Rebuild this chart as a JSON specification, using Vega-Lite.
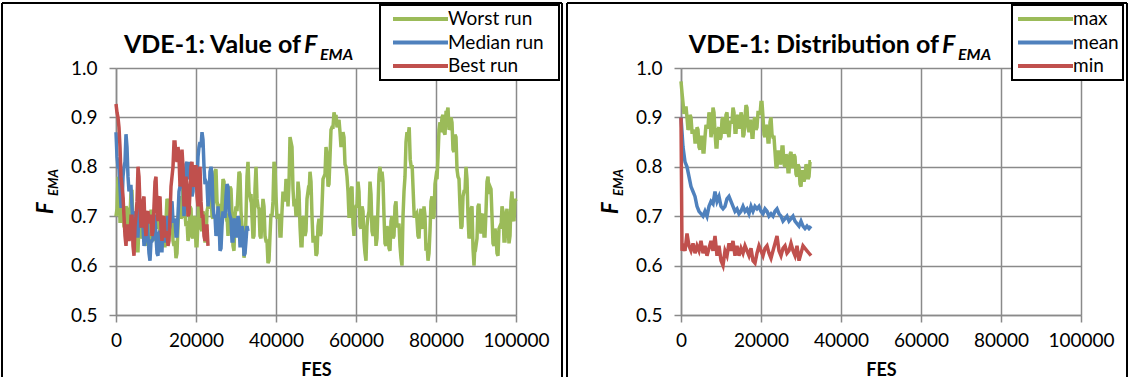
{
  "$schema": "https://vega.github.io/schema/vega-lite/v6.json",
  "padding": {"left": 1, "top": 1, "right": 0, "bottom": 0},
  "autosize": {"type": "pad"},
  "background": "white",
  "spacing": 3,
  "config": {
    "font": "Lato",
    "view": {"stroke": null},
    "axis": {
      "grid": true, "gridColor": "#8a8a8a", "gridWidth": 1.5,
      "domainColor": "#8a8a8a", "domainWidth": 1.5,
      "tickColor": "#8a8a8a", "tickWidth": 1.5, "tickSize": 7,
      "labelFont": "Lato", "labelFontSize": 19, "labelColor": "black",
      "titleFont": "Lato", "titleFontSize": 18, "titleFontWeight": "bold", "titleColor": "black"
    },
    "legend": {
      "strokeColor": "black", "strokeWidth": 2, "fillColor": "white",
      "padding": 4, "symbolType": "stroke", "symbolSize": 3025, "symbolStrokeWidth": 4,
      "labelFont": "Lato", "labelFontSize": 19, "labelColor": "black", "labelOffset": -2,
      "clipHeight": 20, "rowPadding": 3.5
    },
    "text": {"font": "Lato", "color": "black"}
  },
  "resolve": {"scale": {"color": "independent"}, "legend": {"color": "independent"}},
  "hconcat": [
    {
      "width": 400, "height": 247,
      "layer": [
        {
          "data": {"values": [
            {"fes":0,"Worst run":0.70,"Median run":0.87,"Best run":0.927},
            {"fes":250,"Worst run":0.715,"Median run":0.82,"Best run":0.91},
            {"fes":500,"Worst run":0.78,"Median run":0.80,"Best run":0.90},
            {"fes":1000,"Worst run":0.69,"Median run":0.76,"Best run":0.84},
            {"fes":1500,"Worst run":0.74,"Median run":0.72,"Best run":0.76},
            {"fes":2000,"Worst run":0.68,"Median run":0.80,"Best run":0.70},
            {"fes":2500,"Worst run":0.72,"Median run":0.866,"Best run":0.64},
            {"fes":3000,"Worst run":0.66,"Median run":0.78,"Best run":0.68},
            {"fes":3500,"Worst run":0.70,"Median run":0.76,"Best run":0.66},
            {"fes":4000,"Worst run":0.75,"Median run":0.72,"Best run":0.70},
            {"fes":4500,"Worst run":0.65,"Median run":0.68,"Best run":0.62},
            {"fes":5000,"Worst run":0.68,"Median run":0.70,"Best run":0.70},
            {"fes":5500,"Worst run":0.63,"Median run":0.66,"Best run":0.80},
            {"fes":6000,"Worst run":0.70,"Median run":0.72,"Best run":0.72},
            {"fes":6500,"Worst run":0.66,"Median run":0.68,"Best run":0.68},
            {"fes":7000,"Worst run":0.72,"Median run":0.64,"Best run":0.74},
            {"fes":7500,"Worst run":0.64,"Median run":0.70,"Best run":0.66},
            {"fes":8000,"Worst run":0.69,"Median run":0.66,"Best run":0.71},
            {"fes":8500,"Worst run":0.66,"Median run":0.61,"Best run":0.70},
            {"fes":9000,"Worst run":0.71,"Median run":0.65,"Best run":0.66},
            {"fes":9500,"Worst run":0.65,"Median run":0.70,"Best run":0.72},
            {"fes":10000,"Worst run":0.68,"Median run":0.66,"Best run":0.78},
            {"fes":10500,"Worst run":0.72,"Median run":0.62,"Best run":0.69},
            {"fes":11000,"Worst run":0.66,"Median run":0.67,"Best run":0.74},
            {"fes":11500,"Worst run":0.70,"Median run":0.63,"Best run":0.65},
            {"fes":12000,"Worst run":0.64,"Median run":0.69,"Best run":0.70},
            {"fes":12500,"Worst run":0.69,"Median run":0.65,"Best run":0.66},
            {"fes":13000,"Worst run":0.73,"Median run":0.70,"Best run":0.64},
            {"fes":13500,"Worst run":0.67,"Median run":0.68,"Best run":0.70},
            {"fes":14000,"Worst run":0.71,"Median run":0.73,"Best run":0.78},
            {"fes":14500,"Worst run":0.64,"Median run":0.69,"Best run":0.85},
            {"fes":15000,"Worst run":0.615,"Median run":0.66,"Best run":0.82},
            {"fes":15500,"Worst run":0.68,"Median run":0.70,"Best run":0.84},
            {"fes":16000,"Worst run":0.74,"Median run":0.76,"Best run":0.76},
            {"fes":16500,"Worst run":0.70,"Median run":0.81,"Best run":0.835},
            {"fes":17000,"Worst run":0.78,"Median run":0.70,"Best run":0.72},
            {"fes":17500,"Worst run":0.68,"Median run":0.805,"Best run":0.78},
            {"fes":18000,"Worst run":0.65,"Median run":0.78,"Best run":0.70},
            {"fes":18500,"Worst run":0.72,"Median run":0.81,"Best run":0.75},
            {"fes":19000,"Worst run":0.66,"Median run":0.74,"Best run":0.81},
            {"fes":19500,"Worst run":0.70,"Median run":0.80,"Best run":0.76},
            {"fes":20000,"Worst run":0.64,"Median run":0.76,"Best run":0.80},
            {"fes":20500,"Worst run":0.69,"Median run":0.82,"Best run":0.72},
            {"fes":21000,"Worst run":0.73,"Median run":0.85,"Best run":0.80},
            {"fes":21500,"Worst run":0.67,"Median run":0.87,"Best run":0.70},
            {"fes":22000,"Worst run":0.70,"Median run":0.80,"Best run":0.66},
            {"fes":22500,"Worst run":0.65,"Median run":0.77,"Best run":0.68},
            {"fes":23000,"Worst run":0.72,"Median run":0.72,"Best run":0.64},
            {"fes":23500,"Worst run":0.76,"Median run":0.79},
            {"fes":24000,"Worst run":0.70,"Median run":0.785},
            {"fes":24500,"Worst run":0.74,"Median run":0.70},
            {"fes":25000,"Worst run":0.795,"Median run":0.66},
            {"fes":25500,"Worst run":0.72,"Median run":0.72},
            {"fes":26000,"Worst run":0.68,"Median run":0.63},
            {"fes":26500,"Worst run":0.73,"Median run":0.68},
            {"fes":27000,"Worst run":0.77,"Median run":0.70},
            {"fes":27500,"Worst run":0.70,"Median run":0.74},
            {"fes":28000,"Worst run":0.66,"Median run":0.76},
            {"fes":28500,"Worst run":0.76,"Median run":0.70},
            {"fes":29000,"Worst run":0.70,"Median run":0.65},
            {"fes":29500,"Worst run":0.63,"Median run":0.69},
            {"fes":30000,"Worst run":0.72,"Median run":0.66},
            {"fes":30500,"Worst run":0.75,"Median run":0.70},
            {"fes":31000,"Worst run":0.785,"Median run":0.64},
            {"fes":31500,"Worst run":0.68,"Median run":0.68},
            {"fes":32000,"Worst run":0.616,"Median run":0.62},
            {"fes":32500,"Worst run":0.70,"Median run":0.65},
            {"fes":33000,"Worst run":0.81,"Median run":0.67},
            {"fes":33500,"Worst run":0.74},
            {"fes":34000,"Worst run":0.70},
            {"fes":34500,"Worst run":0.66},
            {"fes":35000,"Worst run":0.80},
            {"fes":35500,"Worst run":0.72},
            {"fes":36000,"Worst run":0.66},
            {"fes":36500,"Worst run":0.70},
            {"fes":37000,"Worst run":0.72},
            {"fes":37500,"Worst run":0.65},
            {"fes":38000,"Worst run":0.605},
            {"fes":38500,"Worst run":0.66},
            {"fes":39000,"Worst run":0.70},
            {"fes":39500,"Worst run":0.81},
            {"fes":40000,"Worst run":0.74},
            {"fes":40500,"Worst run":0.70},
            {"fes":41000,"Worst run":0.66},
            {"fes":41500,"Worst run":0.71},
            {"fes":42000,"Worst run":0.74},
            {"fes":42500,"Worst run":0.775},
            {"fes":43000,"Worst run":0.72},
            {"fes":43500,"Worst run":0.86},
            {"fes":44000,"Worst run":0.84},
            {"fes":44500,"Worst run":0.72},
            {"fes":45000,"Worst run":0.70},
            {"fes":45500,"Worst run":0.77},
            {"fes":46000,"Worst run":0.68},
            {"fes":46500,"Worst run":0.64},
            {"fes":47000,"Worst run":0.70},
            {"fes":47500,"Worst run":0.67},
            {"fes":48000,"Worst run":0.75},
            {"fes":48500,"Worst run":0.79},
            {"fes":49000,"Worst run":0.70},
            {"fes":49500,"Worst run":0.65},
            {"fes":50000,"Worst run":0.62},
            {"fes":50500,"Worst run":0.68},
            {"fes":51000,"Worst run":0.66},
            {"fes":51500,"Worst run":0.72},
            {"fes":52000,"Worst run":0.78},
            {"fes":52500,"Worst run":0.84},
            {"fes":53000,"Worst run":0.76},
            {"fes":53500,"Worst run":0.82},
            {"fes":54000,"Worst run":0.88},
            {"fes":54500,"Worst run":0.91},
            {"fes":55000,"Worst run":0.905},
            {"fes":55500,"Worst run":0.89},
            {"fes":56000,"Worst run":0.87},
            {"fes":56500,"Worst run":0.855},
            {"fes":57000,"Worst run":0.86},
            {"fes":57500,"Worst run":0.80},
            {"fes":58000,"Worst run":0.75},
            {"fes":58500,"Worst run":0.70},
            {"fes":59000,"Worst run":0.76},
            {"fes":59500,"Worst run":0.66},
            {"fes":60000,"Worst run":0.72},
            {"fes":60500,"Worst run":0.77},
            {"fes":61000,"Worst run":0.68},
            {"fes":61500,"Worst run":0.72},
            {"fes":62000,"Worst run":0.65},
            {"fes":62500,"Worst run":0.61},
            {"fes":63000,"Worst run":0.70},
            {"fes":63500,"Worst run":0.77},
            {"fes":64000,"Worst run":0.67},
            {"fes":64500,"Worst run":0.70},
            {"fes":65000,"Worst run":0.64},
            {"fes":65500,"Worst run":0.72},
            {"fes":66000,"Worst run":0.80},
            {"fes":66500,"Worst run":0.79},
            {"fes":67000,"Worst run":0.70},
            {"fes":67500,"Worst run":0.64},
            {"fes":68000,"Worst run":0.67},
            {"fes":68500,"Worst run":0.63},
            {"fes":69000,"Worst run":0.70},
            {"fes":69500,"Worst run":0.66},
            {"fes":70000,"Worst run":0.73},
            {"fes":70500,"Worst run":0.68},
            {"fes":71000,"Worst run":0.64},
            {"fes":71500,"Worst run":0.60},
            {"fes":72000,"Worst run":0.75},
            {"fes":72500,"Worst run":0.85},
            {"fes":73000,"Worst run":0.86},
            {"fes":73300,"Worst run":0.88},
            {"fes":73800,"Worst run":0.80},
            {"fes":74300,"Worst run":0.75},
            {"fes":74800,"Worst run":0.70},
            {"fes":75500,"Worst run":0.66},
            {"fes":76000,"Worst run":0.70},
            {"fes":76500,"Worst run":0.68},
            {"fes":77000,"Worst run":0.72},
            {"fes":77500,"Worst run":0.63},
            {"fes":78000,"Worst run":0.61},
            {"fes":78500,"Worst run":0.67},
            {"fes":79000,"Worst run":0.74},
            {"fes":79500,"Worst run":0.70},
            {"fes":80000,"Worst run":0.78},
            {"fes":80500,"Worst run":0.82},
            {"fes":81000,"Worst run":0.89},
            {"fes":81500,"Worst run":0.90},
            {"fes":82000,"Worst run":0.87},
            {"fes":82500,"Worst run":0.91},
            {"fes":83000,"Worst run":0.92},
            {"fes":83500,"Worst run":0.88},
            {"fes":84000,"Worst run":0.89},
            {"fes":84500,"Worst run":0.83},
            {"fes":85000,"Worst run":0.86},
            {"fes":85500,"Worst run":0.78},
            {"fes":86000,"Worst run":0.72},
            {"fes":86500,"Worst run":0.68},
            {"fes":87000,"Worst run":0.75},
            {"fes":87500,"Worst run":0.80},
            {"fes":88000,"Worst run":0.70},
            {"fes":88500,"Worst run":0.66},
            {"fes":89000,"Worst run":0.72},
            {"fes":89500,"Worst run":0.60},
            {"fes":90000,"Worst run":0.64},
            {"fes":90500,"Worst run":0.72},
            {"fes":91000,"Worst run":0.68},
            {"fes":91500,"Worst run":0.70},
            {"fes":92000,"Worst run":0.66},
            {"fes":92500,"Worst run":0.71},
            {"fes":93000,"Worst run":0.78},
            {"fes":93500,"Worst run":0.76},
            {"fes":94000,"Worst run":0.70},
            {"fes":94500,"Worst run":0.64},
            {"fes":95000,"Worst run":0.66},
            {"fes":95500,"Worst run":0.62},
            {"fes":96000,"Worst run":0.68},
            {"fes":96500,"Worst run":0.72},
            {"fes":97000,"Worst run":0.65},
            {"fes":97500,"Worst run":0.70},
            {"fes":98000,"Worst run":0.68},
            {"fes":98500,"Worst run":0.66},
            {"fes":99000,"Worst run":0.75},
            {"fes":99500,"Worst run":0.69},
            {"fes":100000,"Worst run":0.73},
            {"fes":750,"Worst run":0.76,"Median run":0.80,"Best run":0.88},
            {"fes":1250,"Worst run":0.69,"Median run":0.72,"Best run":0.78},
            {"fes":1750,"Worst run":0.735,"Median run":0.78,"Best run":0.74},
            {"fes":2250,"Worst run":0.675,"Median run":0.81,"Best run":0.66},
            {"fes":2750,"Worst run":0.715,"Median run":0.84,"Best run":0.68},
            {"fes":3250,"Worst run":0.655,"Median run":0.75,"Best run":0.65},
            {"fes":3750,"Worst run":0.75,"Median run":0.76,"Best run":0.70},
            {"fes":4250,"Worst run":0.675,"Median run":0.68,"Best run":0.64},
            {"fes":4750,"Worst run":0.69,"Median run":0.71,"Best run":0.68},
            {"fes":5250,"Worst run":0.63,"Median run":0.66,"Best run":0.73},
            {"fes":5750,"Worst run":0.69,"Median run":0.71,"Best run":0.78},
            {"fes":6250,"Worst run":0.655,"Median run":0.68,"Best run":0.68},
            {"fes":6750,"Worst run":0.715,"Median run":0.68,"Best run":0.73},
            {"fes":7250,"Worst run":0.655,"Median run":0.65,"Best run":0.68},
            {"fes":7750,"Worst run":0.69,"Median run":0.70,"Best run":0.705},
            {"fes":8250,"Worst run":0.65,"Median run":0.625,"Best run":0.685},
            {"fes":8750,"Worst run":0.71,"Median run":0.65,"Best run":0.70},
            {"fes":9250,"Worst run":0.655,"Median run":0.655,"Best run":0.67},
            {"fes":9750,"Worst run":0.69,"Median run":0.70,"Best run":0.77},
            {"fes":10250,"Worst run":0.675,"Median run":0.625,"Best run":0.715},
            {"fes":10750,"Worst run":0.715,"Median run":0.665,"Best run":0.735},
            {"fes":11250,"Worst run":0.655,"Median run":0.63,"Best run":0.675},
            {"fes":11750,"Worst run":0.695,"Median run":0.68,"Best run":0.695},
            {"fes":12250,"Worst run":0.64,"Median run":0.65,"Best run":0.66},
            {"fes":12750,"Worst run":0.735,"Median run":0.695,"Best run":0.67},
            {"fes":13250,"Worst run":0.675,"Median run":0.67,"Best run":0.65},
            {"fes":13750,"Worst run":0.715,"Median run":0.725,"Best run":0.76},
            {"fes":14250,"Worst run":0.65,"Median run":0.69,"Best run":0.80},
            {"fes":14750,"Worst run":0.65,"Median run":0.695,"Best run":0.85},
            {"fes":15250,"Worst run":0.625,"Median run":0.66,"Best run":0.81},
            {"fes":15750,"Worst run":0.735,"Median run":0.75,"Best run":0.82},
            {"fes":16250,"Worst run":0.695,"Median run":0.765,"Best run":0.78},
            {"fes":16750,"Worst run":0.765,"Median run":0.775,"Best run":0.80},
            {"fes":17250,"Worst run":0.705,"Median run":0.73,"Best run":0.73},
            {"fes":17750,"Worst run":0.69,"Median run":0.81,"Best run":0.76},
            {"fes":18250,"Worst run":0.66,"Median run":0.775,"Best run":0.705},
            {"fes":18750,"Worst run":0.715,"Median run":0.795,"Best run":0.80},
            {"fes":19250,"Worst run":0.655,"Median run":0.75,"Best run":0.765},
            {"fes":19750,"Worst run":0.695,"Median run":0.80,"Best run":0.80},
            {"fes":20250,"Worst run":0.64,"Median run":0.77,"Best run":0.74},
            {"fes":20750,"Worst run":0.735,"Median run":0.84,"Best run":0.78},
            {"fes":21250,"Worst run":0.675,"Median run":0.84,"Best run":0.73},
            {"fes":21750,"Worst run":0.71,"Median run":0.855,"Best run":0.70},
            {"fes":22250,"Worst run":0.65,"Median run":0.765,"Best run":0.65},
            {"fes":22750,"Worst run":0.71,"Median run":0.765,"Best run":0.68},
            {"fes":23250,"Worst run":0.715,"Median run":0.735},
            {"fes":23750,"Worst run":0.755,"Median run":0.80},
            {"fes":24250,"Worst run":0.695,"Median run":0.72},
            {"fes":24750,"Worst run":0.79,"Median run":0.70},
            {"fes":25250,"Worst run":0.73,"Median run":0.67},
            {"fes":25750,"Worst run":0.725,"Median run":0.695},
            {"fes":26250,"Worst run":0.68,"Median run":0.635},
            {"fes":26750,"Worst run":0.775,"Median run":0.71},
            {"fes":27250,"Worst run":0.71,"Median run":0.70},
            {"fes":27750,"Worst run":0.705,"Median run":0.765},
            {"fes":28250,"Worst run":0.685,"Median run":0.71},
            {"fes":28750,"Worst run":0.755,"Median run":0.695},
            {"fes":29250,"Worst run":0.64,"Median run":0.65},
            {"fes":29750,"Worst run":0.70,"Median run":0.695},
            {"fes":30250,"Worst run":0.71,"Median run":0.66},
            {"fes":30750,"Worst run":0.79,"Median run":0.69},
            {"fes":31250,"Worst run":0.71,"Median run":0.64},
            {"fes":31750,"Worst run":0.673,"Median run":0.67},
            {"fes":32250,"Worst run":0.633,"Median run":0.625},
            {"fes":32750,"Worst run":0.78,"Median run":0.68},
            {"fes":33250,"Worst run":0.75},
            {"fes":33750,"Worst run":0.745},
            {"fes":34250,"Worst run":0.655},
            {"fes":34750,"Worst run":0.755},
            {"fes":35250,"Worst run":0.735},
            {"fes":35750,"Worst run":0.715},
            {"fes":36250,"Worst run":0.655},
            {"fes":36750,"Worst run":0.735},
            {"fes":37250,"Worst run":0.66},
            {"fes":37750,"Worst run":0.65},
            {"fes":38250,"Worst run":0.61},
            {"fes":38750,"Worst run":0.705},
            {"fes":39250,"Worst run":0.73},
            {"fes":39750,"Worst run":0.80},
            {"fes":40250,"Worst run":0.695},
            {"fes":40750,"Worst run":0.705},
            {"fes":41250,"Worst run":0.66},
            {"fes":41750,"Worst run":0.75},
            {"fes":42250,"Worst run":0.73},
            {"fes":42750,"Worst run":0.77},
            {"fes":43250,"Worst run":0.765},
            {"fes":43750,"Worst run":0.85},
            {"fes":44250,"Worst run":0.755},
            {"fes":44750,"Worst run":0.735},
            {"fes":45250,"Worst run":0.71},
            {"fes":45750,"Worst run":0.75},
            {"fes":46250,"Worst run":0.64},
            {"fes":46750,"Worst run":0.695},
            {"fes":47250,"Worst run":0.66},
            {"fes":47750,"Worst run":0.735},
            {"fes":48250,"Worst run":0.745},
            {"fes":48750,"Worst run":0.77},
            {"fes":49250,"Worst run":0.65},
            {"fes":49750,"Worst run":0.66},
            {"fes":50250,"Worst run":0.625},
            {"fes":50750,"Worst run":0.695},
            {"fes":51250,"Worst run":0.665},
            {"fes":51750,"Worst run":0.775},
            {"fes":52250,"Worst run":0.785},
            {"fes":52750,"Worst run":0.825},
            {"fes":53250,"Worst run":0.765},
            {"fes":53750,"Worst run":0.875},
            {"fes":54250,"Worst run":0.88},
            {"fes":54750,"Worst run":0.90},
            {"fes":55250,"Worst run":0.88},
            {"fes":55750,"Worst run":0.895},
            {"fes":56250,"Worst run":0.84},
            {"fes":56750,"Worst run":0.87},
            {"fes":57250,"Worst run":0.805},
            {"fes":57750,"Worst run":0.78},
            {"fes":58250,"Worst run":0.70},
            {"fes":58750,"Worst run":0.755},
            {"fes":59250,"Worst run":0.685},
            {"fes":59750,"Worst run":0.715},
            {"fes":60250,"Worst run":0.72},
            {"fes":60750,"Worst run":0.75},
            {"fes":61250,"Worst run":0.675},
            {"fes":61750,"Worst run":0.71},
            {"fes":62250,"Worst run":0.625},
            {"fes":62750,"Worst run":0.68},
            {"fes":63250,"Worst run":0.71},
            {"fes":63750,"Worst run":0.745},
            {"fes":64250,"Worst run":0.66},
            {"fes":64750,"Worst run":0.695},
            {"fes":65250,"Worst run":0.655},
            {"fes":65750,"Worst run":0.785},
            {"fes":66250,"Worst run":0.77},
            {"fes":66750,"Worst run":0.77},
            {"fes":67250,"Worst run":0.645},
            {"fes":67750,"Worst run":0.68},
            {"fes":68250,"Worst run":0.635},
            {"fes":68750,"Worst run":0.69},
            {"fes":69250,"Worst run":0.655},
            {"fes":69750,"Worst run":0.72},
            {"fes":70250,"Worst run":0.68},
            {"fes":70750,"Worst run":0.685},
            {"fes":71250,"Worst run":0.615},
            {"fes":71750,"Worst run":0.70},
            {"fes":72250,"Worst run":0.78},
            {"fes":72750,"Worst run":0.87},
            {"fes":73550,"Worst run":0.815},
            {"fes":74050,"Worst run":0.80},
            {"fes":74550,"Worst run":0.70},
            {"fes":75150,"Worst run":0.705},
            {"fes":75750,"Worst run":0.655},
            {"fes":76250,"Worst run":0.715},
            {"fes":76750,"Worst run":0.675},
            {"fes":77250,"Worst run":0.70},
            {"fes":77750,"Worst run":0.645},
            {"fes":78250,"Worst run":0.625},
            {"fes":78750,"Worst run":0.73},
            {"fes":79250,"Worst run":0.695},
            {"fes":79750,"Worst run":0.765},
            {"fes":80250,"Worst run":0.775},
            {"fes":80750,"Worst run":0.875},
            {"fes":81250,"Worst run":0.87},
            {"fes":81750,"Worst run":0.905},
            {"fes":82250,"Worst run":0.865},
            {"fes":82750,"Worst run":0.91},
            {"fes":83250,"Worst run":0.875},
            {"fes":83750,"Worst run":0.90},
            {"fes":84250,"Worst run":0.835},
            {"fes":84750,"Worst run":0.865},
            {"fes":85250,"Worst run":0.795},
            {"fes":85750,"Worst run":0.775},
            {"fes":86250,"Worst run":0.675},
            {"fes":86750,"Worst run":0.74},
            {"fes":87250,"Worst run":0.75},
            {"fes":87750,"Worst run":0.775},
            {"fes":88250,"Worst run":0.655},
            {"fes":88750,"Worst run":0.715},
            {"fes":89250,"Worst run":0.635},
            {"fes":89750,"Worst run":0.645},
            {"fes":90250,"Worst run":0.655},
            {"fes":90750,"Worst run":0.725},
            {"fes":91250,"Worst run":0.665},
            {"fes":91750,"Worst run":0.705},
            {"fes":92250,"Worst run":0.66},
            {"fes":92750,"Worst run":0.77},
            {"fes":93250,"Worst run":0.745},
            {"fes":93750,"Worst run":0.755},
            {"fes":94250,"Worst run":0.645},
            {"fes":94750,"Worst run":0.675},
            {"fes":95250,"Worst run":0.625},
            {"fes":95750,"Worst run":0.675},
            {"fes":96250,"Worst run":0.675},
            {"fes":96750,"Worst run":0.71},
            {"fes":97250,"Worst run":0.65},
            {"fes":97750,"Worst run":0.715},
            {"fes":98250,"Worst run":0.645},
            {"fes":98750,"Worst run":0.73},
            {"fes":99250,"Worst run":0.695},
            {"fes":99750,"Worst run":0.735}
          ]},
          "transform": [
            {"fold": ["Worst run", "Median run", "Best run"], "as": ["series", "value"]},
            {"filter": "isValid(datum.value)"}
          ],
          "mark": {"type": "line", "strokeWidth": 3.5, "clip": false},
          "encoding": {
            "x": {"field": "fes", "type": "quantitative",
              "scale": {"domain": [0, 100000], "nice": false},
              "axis": {"title": "FES", "values": [0,10000,20000,30000,40000,50000,60000,70000,80000,90000,100000],
                "format": "d", "labelExpr": "datum.value % 20000 == 0 ? datum.label : ''",
                "labelPadding": 9, "titlePadding": 11, "labelFlush": false, "labelOverlap": false}},
            "y": {"field": "value", "type": "quantitative",
              "scale": {"domain": [0.5, 1.0], "nice": false, "zero": false},
              "axis": {"title": null, "values": [0.5,0.6,0.7,0.8,0.9,1.0], "format": ".1f", "labelPadding": 12}},
            "color": {"field": "series", "type": "nominal",
              "scale": {"domain": ["Worst run", "Median run", "Best run"], "range": ["#9BBB59", "#4F81BD", "#C0504D"]},
              "legend": {"title": "\u00a0", "titleOrient": "right", "titleFontSize": 1, "titlePadding": 11,
                "orient": "none", "legendX": 264, "legendY": -63, "symbolOffset": 7}}
          }
        },
        {
          "data": {"values": [{}]},
          "mark": {"type": "rule", "stroke": "black", "strokeWidth": 2},
          "encoding": {"x": {"datum": -28500}, "y": {"datum": 1.1316}, "y2": {"datum": 0.3745}}
        },
        {
          "data": {"values": [{}]},
          "mark": {"type": "rule", "stroke": "black", "strokeWidth": 2},
          "encoding": {"x": {"datum": 111500}, "y": {"datum": 1.1316}, "y2": {"datum": 0.3745}}
        },
        {
          "data": {"values": [{}]},
          "mark": {"type": "rule", "stroke": "black", "strokeWidth": 2},
          "encoding": {"x": {"datum": -28500}, "x2": {"datum": 111500}, "y": {"datum": 1.1316}}
        },
        {
          "data": {"values": [{}]},
          "mark": {"type": "text", "text": "VDE-1: Value of", "align": "right", "baseline": "alphabetic", "fontSize": 25, "fontWeight": "bold"},
          "encoding": {"x": {"datum": 46250}, "y": {"datum": 1.0304}}
        },
        {
          "data": {"values": [{}]},
          "mark": {"type": "text", "text": "F", "align": "left", "baseline": "alphabetic", "fontSize": 25, "fontWeight": "bold", "fontStyle": "italic"},
          "encoding": {"x": {"datum": 47000}, "y": {"datum": 1.0304}}
        },
        {
          "data": {"values": [{}]},
          "mark": {"type": "text", "text": "EMA", "align": "left", "baseline": "alphabetic", "fontSize": 16, "fontWeight": "bold", "fontStyle": "italic"},
          "encoding": {"x": {"datum": 51000}, "y": {"datum": 1.0162}}
        },
        {
          "data": {"values": [{}]},
          "mark": {"type": "text", "text": "F", "align": "left", "baseline": "alphabetic", "angle": 270, "fontSize": 22, "fontWeight": "bold", "fontStyle": "italic"},
          "encoding": {"x": {"datum": -15750}, "y": {"datum": 0.7045}}
        },
        {
          "data": {"values": [{}]},
          "mark": {"type": "text", "text": "EMA", "align": "left", "baseline": "alphabetic", "angle": 270, "fontSize": 13, "fontWeight": "bold", "fontStyle": "italic"},
          "encoding": {"x": {"datum": -14500}, "y": {"datum": 0.741}}
        }
      ]
    },
    {
      "width": 400, "height": 247,
      "layer": [
        {
          "data": {"values": [
            {"fes":0,"max":0.973,"mean":0.90,"min":0.90},
            {"fes":250,"max":0.95,"mean":0.87,"min":0.63},
            {"fes":500,"max":0.93,"mean":0.84,"min":0.64},
            {"fes":1000,"max":0.915,"mean":0.81,"min":0.63},
            {"fes":1500,"max":0.90,"mean":0.80,"min":0.665},
            {"fes":2000,"max":0.88,"mean":0.78,"min":0.64},
            {"fes":2500,"max":0.90,"mean":0.76,"min":0.63},
            {"fes":3000,"max":0.87,"mean":0.75,"min":0.645},
            {"fes":3500,"max":0.85,"mean":0.74,"min":0.625},
            {"fes":4000,"max":0.88,"mean":0.72,"min":0.64},
            {"fes":4500,"max":0.84,"mean":0.71,"min":0.63},
            {"fes":5000,"max":0.86,"mean":0.705,"min":0.65},
            {"fes":5500,"max":0.83,"mean":0.70,"min":0.625},
            {"fes":6000,"max":0.86,"mean":0.71,"min":0.64},
            {"fes":6500,"max":0.88,"mean":0.70,"min":0.62},
            {"fes":7000,"max":0.91,"mean":0.72,"min":0.635},
            {"fes":7500,"max":0.86,"mean":0.73,"min":0.65},
            {"fes":8000,"max":0.92,"mean":0.725,"min":0.63},
            {"fes":8500,"max":0.87,"mean":0.75,"min":0.66},
            {"fes":9000,"max":0.84,"mean":0.73,"min":0.62},
            {"fes":9500,"max":0.88,"mean":0.74,"min":0.64},
            {"fes":10000,"max":0.86,"mean":0.72,"min":0.61},
            {"fes":10500,"max":0.90,"mean":0.715,"min":0.60},
            {"fes":11000,"max":0.87,"mean":0.72,"min":0.63},
            {"fes":11500,"max":0.91,"mean":0.735,"min":0.62},
            {"fes":12000,"max":0.86,"mean":0.74,"min":0.645},
            {"fes":12500,"max":0.89,"mean":0.73,"min":0.63},
            {"fes":13000,"max":0.92,"mean":0.72,"min":0.65},
            {"fes":13500,"max":0.87,"mean":0.71,"min":0.62},
            {"fes":14000,"max":0.90,"mean":0.715,"min":0.64},
            {"fes":14500,"max":0.88,"mean":0.705,"min":0.62},
            {"fes":15000,"max":0.91,"mean":0.71,"min":0.635},
            {"fes":15500,"max":0.86,"mean":0.72,"min":0.625},
            {"fes":16000,"max":0.90,"mean":0.71,"min":0.64},
            {"fes":16500,"max":0.92,"mean":0.715,"min":0.63},
            {"fes":17000,"max":0.87,"mean":0.705,"min":0.62},
            {"fes":17500,"max":0.89,"mean":0.72,"min":0.635},
            {"fes":18000,"max":0.86,"mean":0.71,"min":0.61},
            {"fes":18500,"max":0.90,"mean":0.72,"min":0.605},
            {"fes":19000,"max":0.88,"mean":0.715,"min":0.625},
            {"fes":19500,"max":0.91,"mean":0.72,"min":0.64},
            {"fes":20000,"max":0.93,"mean":0.71,"min":0.63},
            {"fes":20500,"max":0.90,"mean":0.705,"min":0.62},
            {"fes":21000,"max":0.86,"mean":0.715,"min":0.635},
            {"fes":21500,"max":0.88,"mean":0.71,"min":0.64},
            {"fes":22000,"max":0.85,"mean":0.70,"min":0.625},
            {"fes":22500,"max":0.90,"mean":0.705,"min":0.615},
            {"fes":23000,"max":0.86,"mean":0.70,"min":0.63},
            {"fes":23500,"max":0.83,"mean":0.71,"min":0.645},
            {"fes":24000,"max":0.80,"mean":0.715,"min":0.66},
            {"fes":24500,"max":0.83,"mean":0.705,"min":0.63},
            {"fes":25000,"max":0.81,"mean":0.70,"min":0.62},
            {"fes":25500,"max":0.84,"mean":0.69,"min":0.635},
            {"fes":26000,"max":0.80,"mean":0.695,"min":0.64},
            {"fes":26500,"max":0.82,"mean":0.70,"min":0.625},
            {"fes":27000,"max":0.79,"mean":0.69,"min":0.63},
            {"fes":27500,"max":0.83,"mean":0.695,"min":0.645},
            {"fes":28000,"max":0.80,"mean":0.70,"min":0.63},
            {"fes":28500,"max":0.82,"mean":0.69,"min":0.62},
            {"fes":29000,"max":0.78,"mean":0.685,"min":0.64},
            {"fes":29500,"max":0.80,"mean":0.68,"min":0.61},
            {"fes":30000,"max":0.76,"mean":0.69,"min":0.625},
            {"fes":30500,"max":0.79,"mean":0.68,"min":0.64},
            {"fes":31000,"max":0.78,"mean":0.675,"min":0.635},
            {"fes":31500,"max":0.80,"mean":0.68,"min":0.63},
            {"fes":32000,"max":0.78,"mean":0.675,"min":0.625},
            {"fes":32500,"max":0.81,"mean":0.68,"min":0.62},
            {"fes":750,"max":0.907},
            {"fes":1250,"max":0.922},
            {"fes":1750,"max":0.875},
            {"fes":2250,"max":0.905},
            {"fes":2750,"max":0.87},
            {"fes":3250,"max":0.875},
            {"fes":3750,"max":0.85},
            {"fes":4250,"max":0.875},
            {"fes":4750,"max":0.835},
            {"fes":5250,"max":0.86},
            {"fes":5750,"max":0.83},
            {"fes":6250,"max":0.885},
            {"fes":6750,"max":0.88},
            {"fes":7250,"max":0.90},
            {"fes":7750,"max":0.875},
            {"fes":8250,"max":0.91},
            {"fes":8750,"max":0.84},
            {"fes":9250,"max":0.875},
            {"fes":9750,"max":0.855},
            {"fes":10250,"max":0.895},
            {"fes":10750,"max":0.87},
            {"fes":11250,"max":0.905},
            {"fes":11750,"max":0.87},
            {"fes":12250,"max":0.89},
            {"fes":12750,"max":0.89},
            {"fes":13250,"max":0.91},
            {"fes":13750,"max":0.87},
            {"fes":14250,"max":0.905},
            {"fes":14750,"max":0.88},
            {"fes":15250,"max":0.90},
            {"fes":15750,"max":0.865},
            {"fes":16250,"max":0.925},
            {"fes":16750,"max":0.88},
            {"fes":17250,"max":0.895},
            {"fes":17750,"max":0.86},
            {"fes":18250,"max":0.895},
            {"fes":18750,"max":0.875},
            {"fes":19250,"max":0.91},
            {"fes":19750,"max":0.905},
            {"fes":20250,"max":0.93},
            {"fes":20750,"max":0.865},
            {"fes":21250,"max":0.885},
            {"fes":21750,"max":0.85},
            {"fes":22250,"max":0.89},
            {"fes":22750,"max":0.865},
            {"fes":23250,"max":0.86},
            {"fes":23750,"max":0.80},
            {"fes":24250,"max":0.83},
            {"fes":24750,"max":0.805},
            {"fes":25250,"max":0.84},
            {"fes":25750,"max":0.805},
            {"fes":26250,"max":0.825},
            {"fes":26750,"max":0.79},
            {"fes":27250,"max":0.825},
            {"fes":27750,"max":0.80},
            {"fes":28250,"max":0.825},
            {"fes":28750,"max":0.785},
            {"fes":29250,"max":0.805},
            {"fes":29750,"max":0.765},
            {"fes":30250,"max":0.79},
            {"fes":30750,"max":0.77},
            {"fes":31250,"max":0.805},
            {"fes":31750,"max":0.775},
            {"fes":32250,"max":0.81}
          ]},
          "transform": [
            {"fold": ["max", "mean", "min"], "as": ["series", "value"]},
            {"filter": "isValid(datum.value)"}
          ],
          "mark": {"type": "line", "strokeWidth": 3.5, "clip": false},
          "encoding": {
            "x": {"field": "fes", "type": "quantitative",
              "scale": {"domain": [0, 100000], "nice": false},
              "axis": {"title": "FES", "values": [0,10000,20000,30000,40000,50000,60000,70000,80000,90000,100000],
                "format": "d", "labelExpr": "datum.value % 20000 == 0 ? datum.label : ''",
                "labelPadding": 9, "titlePadding": 11, "labelFlush": false, "labelOverlap": false}},
            "y": {"field": "value", "type": "quantitative",
              "scale": {"domain": [0.5, 1.0], "nice": false, "zero": false},
              "axis": {"title": null, "values": [0.5,0.6,0.7,0.8,0.9,1.0], "format": ".1f", "labelPadding": 12}},
            "color": {"field": "series", "type": "nominal",
              "scale": {"domain": ["max", "mean", "min"], "range": ["#9BBB59", "#4F81BD", "#C0504D"]},
              "legend": {"title": null, "orient": "none", "legendX": 331, "legendY": -63, "symbolOffset": 0}}
          }
        },
        {
          "data": {"values": [{}]},
          "mark": {"type": "rule", "stroke": "black", "strokeWidth": 2},
          "encoding": {"x": {"datum": -28500}, "y": {"datum": 1.1316}, "y2": {"datum": 0.3745}}
        },
        {
          "data": {"values": [{}]},
          "mark": {"type": "rule", "stroke": "black", "strokeWidth": 2},
          "encoding": {"x": {"datum": 111500}, "y": {"datum": 1.1316}, "y2": {"datum": 0.3745}}
        },
        {
          "data": {"values": [{}]},
          "mark": {"type": "rule", "stroke": "black", "strokeWidth": 2},
          "encoding": {"x": {"datum": -28500}, "x2": {"datum": 111500}, "y": {"datum": 1.1316}}
        },
        {
          "data": {"values": [{}]},
          "mark": {"type": "text", "text": "VDE-1: Distribution of", "align": "right", "baseline": "alphabetic", "fontSize": 25, "fontWeight": "bold"},
          "encoding": {"x": {"datum": 64500}, "y": {"datum": 1.0304}}
        },
        {
          "data": {"values": [{}]},
          "mark": {"type": "text", "text": "F", "align": "left", "baseline": "alphabetic", "fontSize": 25, "fontWeight": "bold", "fontStyle": "italic"},
          "encoding": {"x": {"datum": 65250}, "y": {"datum": 1.0304}}
        },
        {
          "data": {"values": [{}]},
          "mark": {"type": "text", "text": "EMA", "align": "left", "baseline": "alphabetic", "fontSize": 16, "fontWeight": "bold", "fontStyle": "italic"},
          "encoding": {"x": {"datum": 69250}, "y": {"datum": 1.0162}}
        },
        {
          "data": {"values": [{}]},
          "mark": {"type": "text", "text": "F", "align": "left", "baseline": "alphabetic", "angle": 270, "fontSize": 22, "fontWeight": "bold", "fontStyle": "italic"},
          "encoding": {"x": {"datum": -15750}, "y": {"datum": 0.7045}}
        },
        {
          "data": {"values": [{}]},
          "mark": {"type": "text", "text": "EMA", "align": "left", "baseline": "alphabetic", "angle": 270, "fontSize": 13, "fontWeight": "bold", "fontStyle": "italic"},
          "encoding": {"x": {"datum": -14500}, "y": {"datum": 0.741}}
        }
      ]
    }
  ]
}
